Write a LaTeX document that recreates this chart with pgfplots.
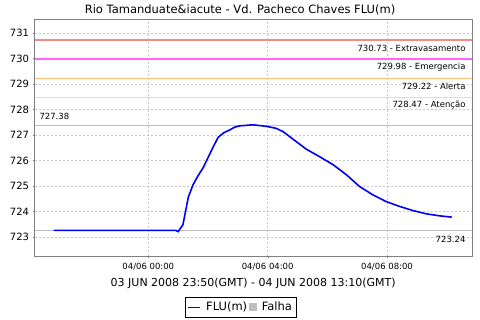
\documentclass[border=0pt]{standalone}
\usepackage{pgfplots}
\pgfplotsset{compat=1.18}
\usepackage{fontspec}
\setmainfont{DejaVu Sans}
\definecolor{axgray}{RGB}{128,128,128}
\definecolor{gridgray}{RGB}{200,200,200}
\definecolor{cExtra}{RGB}{240,140,130}
\definecolor{cEmerg}{RGB}{255,100,255}
\definecolor{cAlert}{RGB}{255,190,120}
\definecolor{cAtenc}{RGB}{255,222,115}
\definecolor{cRef}{RGB}{190,190,190}
\definecolor{cFalha}{RGB}{190,190,190}
\begin{document}
\begin{tikzpicture}
\path[use as bounding box] (-34.5bp,-64bp) rectangle (445.5bp,256bp);
\begin{axis}[
  scale only axis,
  width=437.5bp, height=237bp,
  xmin=-3.814, xmax=10.848,
  ymin=722.255, ymax=731.55,
  xtick={0,4,8},
  xticklabels={04/06 00:00,04/06 04:00,04/06 08:00},
  ytick={723,724,725,726,727,728,729,730,731},
  /pgf/number format/assume math mode=true,
  /pgf/number format/.cd, 1000 sep={}, /pgfplots/.cd,
  xticklabel style={font=\fontsize{8.5bp}{10bp}\selectfont, yshift=-2bp},
  yticklabel style={font=\fontsize{10bp}{12bp}\selectfont},
  grid=major,
  major grid style={gridgray, dash pattern=on 2bp off 2bp, line width=0.5bp},
  axis line style={axgray, line width=0.8bp},
  tick style={axgray},
  tick align=outside,
  major tick length=2bp,
  xtick pos=bottom, ytick pos=left,
  xlabel={03 JUN 2008 23:50(GMT) - 04 JUN 2008 13:10(GMT)},
  xlabel style={font=\fontsize{11bp}{13bp}\selectfont, at={(rel axis cs:0.5,0)}, anchor=center, yshift=-27bp},
  legend style={at={(rel axis cs:0.4715,-0.2165)}, anchor=center, draw=black, line width=0.7bp,
    font=\fontsize{11.5bp}{13bp}\selectfont, legend columns=2, inner xsep=2bp, inner ysep=2.5bp,
    /tikz/every odd column/.append style={column sep=3bp}},
  legend cell align=left,
  clip=true,
]
% threshold lines
\addplot[cExtra, line width=1.4bp, forget plot] coordinates {(-3.814,730.73) (10.848,730.73)};
\addplot[cEmerg, line width=1.15bp, forget plot] coordinates {(-3.814,729.98) (10.848,729.98)};
\addplot[cAlert, line width=1.2bp, forget plot] coordinates {(-3.814,729.22) (10.848,729.22)};
\addplot[cAtenc, line width=1.4bp, forget plot] coordinates {(-3.814,728.47) (10.848,728.47)};
\addplot[cRef, line width=1.1bp, forget plot] coordinates {(-3.814,727.38) (10.848,727.38)};
\addplot[cRef, line width=1.1bp, forget plot] coordinates {(-3.814,723.24) (10.848,723.24)};
% data
\addplot[color=blue, line width=1.6bp, forget plot] coordinates {
(-3.17,723.26) (-2.5,723.26) (-2.0,723.26) (-1.5,723.26) (-1.0,723.26) (-0.5,723.26) (0.0,723.26)
(0.5,723.26) (0.92,723.26) (1.00,723.21) (1.16,723.48) (1.34,724.56) (1.50,725.05)
(1.67,725.41) (1.84,725.72) (2.00,726.11) (2.17,726.52) (2.34,726.91) (2.53,727.09)
(2.73,727.20) (2.90,727.31) (3.07,727.36) (3.51,727.40) (3.96,727.34) (4.29,727.26)
(4.52,727.13) (4.96,726.74) (5.30,726.44) (5.74,726.15) (6.20,725.83) (6.64,725.44)
(7.08,724.98) (7.53,724.65) (7.97,724.39) (8.42,724.20) (8.86,724.04) (9.31,723.91)
(9.76,723.83) (10.17,723.78)
};
\addlegendimage{legend image code/.code={\draw[blue, line width=1.6bp] (0bp,0bp) -- (12bp,0bp);}}
\addlegendentry{FLU(m)}
\addlegendimage{legend image code/.code={\fill[cFalha] (2bp,-3.5bp) rectangle (9bp,3.5bp);}}
\addlegendentry{Falha}
% threshold labels
\node[font=\fontsize{8.5bp}{10bp}\selectfont, anchor=east] at (axis cs:10.848,730.73) [xshift=-3bp, yshift=-8.4bp] {730.73 - Extravasamento};
\node[font=\fontsize{8.5bp}{10bp}\selectfont, anchor=east] at (axis cs:10.848,729.98) [xshift=-3bp, yshift=-8.2bp] {729.98 - Emergencia};
\node[font=\fontsize{8.5bp}{10bp}\selectfont, anchor=east] at (axis cs:10.848,729.22) [xshift=-3bp, yshift=-8.4bp] {729.22 - Alerta};
\node[font=\fontsize{8.5bp}{10bp}\selectfont, anchor=east] at (axis cs:10.848,728.47) [xshift=-3bp, yshift=-7.7bp] {728.47 - Atenção};
\node[font=\fontsize{8.5bp}{10bp}\selectfont, anchor=west] at (axis cs:-3.814,727.38) [xshift=1.5bp, yshift=8.7bp] {727.38};
\node[font=\fontsize{8.5bp}{10bp}\selectfont, anchor=east] at (axis cs:10.848,723.24) [xshift=-3bp, yshift=-9bp] {723.24};
\end{axis}
\node[font=\fontsize{11.5bp}{13bp}\selectfont] at (205.5bp,246bp) {Rio Tamanduate\&iacute - Vd. Pacheco Chaves FLU(m)};
\end{tikzpicture}
\end{document}
